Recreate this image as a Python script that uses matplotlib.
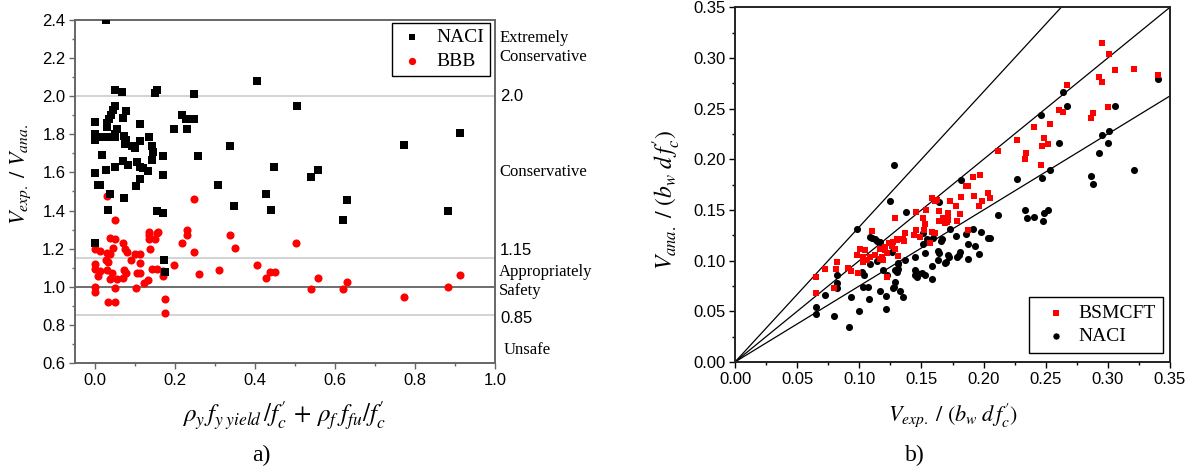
import numpy as np
import matplotlib
matplotlib.use("Agg")
import matplotlib.pyplot as plt
import matplotlib.transforms as mtransforms
from matplotlib.ticker import MultipleLocator

plt.rcParams['font.family'] = ['Liberation Sans', 'DejaVu Sans']
plt.rcParams['mathtext.fontset'] = 'stix'

# ---- panel a) data: V_exp / V_ana against reinforcement index ----
naci_a = [
    (0.028, 2.40), (0.05, 2.033), (0.068, 2.023), (0.154, 2.033), (0.151, 2.016),
    (0.248, 2.014), (0.406, 2.082), (0.0, 1.866), (0.0, 1.80), (0.0, 1.77),
    (0.0125, 1.786), (0.0275, 1.786), (0.0375, 1.786), (0.05, 1.786), (0.05, 1.946),
    (0.045, 1.93), (0.04, 1.90), (0.035, 1.88), (0.03, 1.86), (0.03, 1.84),
    (0.054, 1.828), (0.05, 1.80), (0.071, 1.885), (0.078, 1.924), (0.1125, 1.854),
    (0.073, 1.79), (0.078, 1.77), (0.076, 1.75), (0.092, 1.74), (0.10, 1.728),
    (0.1125, 1.763), (0.136, 1.786), (0.142, 1.737), (0.146, 1.705), (0.171, 1.684),
    (0.017, 1.693), (0.071, 1.662), (0.082, 1.637), (0.104, 1.653), (0.1125, 1.629),
    (0.121, 1.624), (0.142, 1.663), (0.133, 1.606), (0.171, 1.585), (0.1125, 1.566),
    (0.1025, 1.527), (0.0, 1.597), (0.0275, 1.615), (0.05, 1.627), (0.007, 1.536),
    (0.0125, 1.536), (0.0375, 1.487), (0.073, 1.466), (0.033, 1.405), (0.154, 1.396),
    (0.169, 1.386), (0.1975, 1.828), (0.218, 1.903), (0.2275, 1.882), (0.229, 1.828),
    (0.248, 1.882), (0.258, 1.684), (0.308, 1.536), (0.3375, 1.737), (0.348, 1.423),
    (0.427, 1.487), (0.439, 1.405), (0.448, 1.627), (0.504, 1.946), (0.539, 1.574),
    (0.558, 1.615), (0.629, 1.454), (0.621, 1.348), (0.7725, 1.746), (0.913, 1.805),
    (0.882, 1.396), (0.0, 1.227), (0.173, 1.143), (0.175, 1.075),
]
bbb_a = [
    (0.05, 1.35), (0.029, 1.475), (0.248, 1.458), (0.136, 1.288), (0.157, 1.288),
    (0.229, 1.30), (0.229, 1.274), (0.3375, 1.274), (0.0375, 1.257), (0.05, 1.248),
    (0.0, 1.196), (0.0125, 1.187), (0.029, 1.178), (0.0375, 1.17), (0.027, 1.143),
    (0.033, 1.129), (0.046, 1.205), (0.071, 1.227), (0.075, 1.196), (0.079, 1.182),
    (0.10, 1.17), (0.1125, 1.17), (0.09, 1.143), (0.1125, 1.126), (0.136, 1.27),
    (0.135, 1.248), (0.154, 1.283), (0.15, 1.248), (0.1375, 1.196), (0.217, 1.227),
    (0.248, 1.184), (0.35, 1.205), (0.5025, 1.227), (0.0, 1.117), (0.0, 1.091),
    (0.0125, 1.082), (0.008, 1.056), (0.029, 1.087), (0.0417, 1.07), (0.0375, 1.043),
    (0.054, 1.039), (0.05, 0.995), (0.072, 1.09), (0.077, 1.07), (0.071, 1.045),
    (0.104, 1.074), (0.1125, 1.074), (0.1025, 0.995), (0.123, 1.018), (0.133, 1.035),
    (0.142, 1.093), (0.154, 1.093), (0.171, 1.082), (0.171, 1.056), (0.1975, 1.114),
    (0.26, 1.068), (0.31, 1.087), (0.404, 1.114), (0.427, 1.047), (0.4375, 1.077),
    (0.45, 1.077), (0.0, 0.999), (0.0, 0.974), (0.033, 0.922), (0.05, 0.922),
    (0.174, 0.937), (0.174, 0.864), (0.539, 0.99), (0.558, 1.048), (0.62, 0.99),
    (0.629, 1.027), (0.7725, 0.946), (0.882, 0.999), (0.9125, 1.06),
]
limits_a = [2.0, 1.15, 1.0, 0.85]
zone_labels = [
    (2.255, "Extremely\nConservative", 'serif', 0.0),
    (2.0, "2.0", 'sans', 0.0),
    (1.60, "Conservative", 'serif', 0.0),
    (1.19, "1.15", 'sans', 0.0),
    (1.025, "Appropriately\nSafety", 'serif', 0.0),
    (0.835, "0.85", 'sans', 0.0),
    (0.667, "Unsafe", 'serif', 0.01),
]

# ---- panel b) data: normalized analytical vs experimental shear ----
bsmcft_b = [
    (0.2955, 0.3145), (0.3006, 0.304), (0.3055, 0.288), (0.3213, 0.2894), (0.340, 0.2835),
    (0.2926, 0.2815), (0.295, 0.276), (0.2674, 0.273), (0.261, 0.2487), (0.2636, 0.2464),
    (0.2878, 0.246), (0.2867, 0.241), (0.3001, 0.252), (0.2537, 0.2352), (0.2403, 0.2316),
    (0.2269, 0.2188), (0.2486, 0.2207), (0.2518, 0.2154), (0.2473, 0.2131), (0.2344, 0.206),
    (0.2336, 0.200), (0.2465, 0.1947), (0.2119, 0.2082), (0.1969, 0.1849), (0.1915, 0.1829),
    (0.1856, 0.174), (0.1872, 0.174), (0.2033, 0.167), (0.2054, 0.1618), (0.1925, 0.1635),
    (0.1985, 0.159), (0.196, 0.154), (0.182, 0.163), (0.173, 0.159), (0.1778, 0.154),
    (0.181, 0.1457), (0.1583, 0.162), (0.1609, 0.159), (0.1537, 0.150), (0.1456, 0.1477),
    (0.1644, 0.1487), (0.1714, 0.1473), (0.1515, 0.1424), (0.1644, 0.1391), (0.1714, 0.1401),
    (0.1789, 0.1391), (0.1287, 0.1421), (0.1529, 0.1359), (0.1368, 0.1276), (0.1454, 0.1303),
    (0.144, 0.125), (0.1583, 0.1283), (0.1609, 0.127), (0.130, 0.1217), (0.1354, 0.1217),
    (0.1488, 0.1237), (0.1872, 0.1303), (0.1167, 0.1112), (0.1207, 0.1138), (0.1241, 0.1171),
    (0.1261, 0.1145), (0.1287, 0.1112), (0.1314, 0.1046), (0.1226, 0.1073), (0.118, 0.1039),
    (0.122, 0.0836), (0.1569, 0.1171), (0.169, 0.1368), (0.0649, 0.0842), (0.0652, 0.0684),
    (0.0724, 0.0921), (0.0823, 0.099), (0.0813, 0.0915), (0.0799, 0.0727), (0.0912, 0.0931),
    (0.0933, 0.0898), (0.0984, 0.1056), (0.1006, 0.1112), (0.1046, 0.1105), (0.1027, 0.1039),
    (0.1086, 0.1039), (0.1059, 0.1006), (0.1105, 0.1293), (0.1126, 0.1056), (0.1167, 0.1013),
    (0.1207, 0.1105), (0.1193, 0.1006), (0.1274, 0.1187), (0.1301, 0.1204), (0.1362, 0.1197),
    (0.0992, 0.0875), (0.1032, 0.099), (0.1623, 0.1599), (0.1703, 0.1379), (0.1716, 0.1434),
    (0.1676, 0.1418), (0.1521, 0.1303),
]
naci_b = [
    (0.340, 0.279), (0.2636, 0.2667), (0.2674, 0.2526), (0.3055, 0.2526), (0.2465, 0.244),
    (0.261, 0.2158), (0.2953, 0.224), (0.3006, 0.228), (0.3001, 0.216), (0.2926, 0.2062),
    (0.2537, 0.1895), (0.247, 0.1819), (0.2269, 0.1806), (0.2867, 0.1832), (0.2878, 0.1756),
    (0.3213, 0.1895), (0.1818, 0.1793), (0.1279, 0.1947), (0.1247, 0.159), (0.1373, 0.1483),
    (0.1639, 0.1576), (0.2119, 0.1447), (0.2336, 0.1503), (0.2347, 0.1424), (0.2403, 0.1434),
    (0.2486, 0.1467), (0.2518, 0.1503), (0.2476, 0.1394), (0.173, 0.1315), (0.1515, 0.1276),
    (0.1604, 0.127), (0.1912, 0.1309), (0.1979, 0.1286), (0.1856, 0.126), (0.1778, 0.1243),
    (0.2052, 0.1224), (0.2038, 0.122), (0.1542, 0.1217), (0.1663, 0.1211), (0.1657, 0.1197),
    (0.1596, 0.122), (0.1872, 0.1161), (0.193, 0.1145), (0.1515, 0.1164), (0.1529, 0.1073),
    (0.1636, 0.1098), (0.1644, 0.1073), (0.1716, 0.1056), (0.1724, 0.1033), (0.1698, 0.099),
    (0.169, 0.098), (0.1636, 0.1006), (0.181, 0.1088), (0.1802, 0.1056), (0.1784, 0.1039),
    (0.1963, 0.1066), (0.1875, 0.1016), (0.1448, 0.1039), (0.1368, 0.1006), (0.1314, 0.098),
    (0.1287, 0.0908), (0.130, 0.0891), (0.1583, 0.095), (0.1448, 0.0908), (0.1462, 0.0875),
    (0.1502, 0.0881), (0.1529, 0.0858), (0.1448, 0.0858), (0.1462, 0.0836), (0.1583, 0.0816),
    (0.1193, 0.0908), (0.122, 0.0858), (0.1287, 0.0792), (0.128, 0.0743), (0.1274, 0.0727),
    (0.1167, 0.070), (0.1215, 0.0651), (0.1354, 0.0638), (0.1215, 0.052), (0.0982, 0.1312),
    (0.1086, 0.123), (0.1105, 0.122), (0.1126, 0.121), (0.1145, 0.1197), (0.1167, 0.1187),
    (0.114, 0.100), (0.1086, 0.0964), (0.1261, 0.1082), (0.1314, 0.0967), (0.1019, 0.0891),
    (0.1038, 0.0858), (0.1032, 0.0743), (0.1068, 0.0737), (0.1078, 0.0619), (0.1328, 0.0701),
    (0.0823, 0.0858), (0.0818, 0.0776), (0.0818, 0.0727), (0.0799, 0.0457), (0.0724, 0.0661),
    (0.0652, 0.0546), (0.0652, 0.047), (0.0933, 0.0641), (0.0915, 0.0348), (0.0998, 0.0503),
    (0.1314, 0.0915),
]
ratio_lines = [1 / 0.75, 1.0, 0.75]

serif = ['Liberation Serif', 'DejaVu Serif']
tick_size = 12

fig = plt.figure(figsize=(12, 4.73), dpi=100)

# ================= panel a =================
ax1 = fig.add_axes([0.0625, 0.2326, 0.35, 0.7252])
na = np.array(naci_a)
ba = np.array(bbb_a)
for v in limits_a:
    col = '#555555' if v == 1.0 else '#cccccc'
    ax1.axhline(v, color=col, lw=1.2, zorder=1)
ax1.scatter(na[:, 0], na[:, 1], marker='s', s=26, color='black', lw=0, zorder=3, label='NACI')
ax1.scatter(ba[:, 0], ba[:, 1], marker='o', s=34, color='#ff0000', lw=0, zorder=2, label='BBB')
ax1.set_xlim(-0.05, 1.0)
ax1.set_ylim(0.6, 2.4)
ax1.xaxis.set_major_locator(MultipleLocator(0.2))
ax1.xaxis.set_minor_locator(MultipleLocator(0.1))
ax1.yaxis.set_major_locator(MultipleLocator(0.2))
ax1.yaxis.set_minor_locator(MultipleLocator(0.1))
ax1.xaxis.set_major_formatter(matplotlib.ticker.FormatStrFormatter('%.1f'))
ax1.yaxis.set_major_formatter(matplotlib.ticker.FormatStrFormatter('%.1f'))
for sp in ax1.spines.values():
    sp.set_color('#666666')
    sp.set_linewidth(1.4)
ax1.tick_params(which='major', direction='out', length=4, width=1, color='#666666',
                labelsize=tick_size, pad=3)
ax1.tick_params(which='minor', direction='out', length=2.2, width=1, color='#666666')

trans = mtransforms.blended_transform_factory(ax1.transAxes, ax1.transData)
for yv, txt, kind, dx in zone_labels:
    if kind == 'serif':
        ax1.text(1.01 + dx, yv, txt, transform=trans, va='center', ha='left',
                 family=serif, fontsize=12, linespacing=1.25, clip_on=False)
    else:
        ax1.text(1.012, yv, txt, transform=trans, va='center', ha='left',
                 fontsize=tick_size, clip_on=False)

leg1 = ax1.legend(loc='upper right', bbox_to_anchor=(0.988, 0.991), borderaxespad=0,
                  prop={'family': serif, 'size': 14}, fancybox=False, framealpha=1,
                  edgecolor='black', handletextpad=0.5, borderpad=0.3, labelspacing=0.3,
                  handlelength=1.5, markerscale=0.9)
leg1.get_frame().set_linewidth(1.0)

ax1.set_ylabel(r"$V_{exp.}\ /\ V_{ana.}$", fontsize=16)
ax1.yaxis.set_label_coords(-0.1, 0.55)
ax1.set_xlabel(r"$\rho_y\,f_{y\;yield}\,/f^{\prime}_c\,+\,\rho_f\;f_{fu}/f^{\prime}_c$", fontsize=18)
ax1.xaxis.set_label_coords(0.498, -0.105)
fig.text(0.218, 0.038, "a)", family=serif, fontsize=17, ha='center', va='center')

# ================= panel b =================
ax2 = fig.add_axes([0.6125, 0.2347, 0.3625, 0.75])
xs = np.array([0.0, 0.35])
for k in ratio_lines:
    ax2.plot(xs, k * xs, color='black', lw=0.9, zorder=1)
bb = np.array(bsmcft_b)
nb = np.array(naci_b)
ax2.scatter(nb[:, 0], nb[:, 1], marker='o', s=26, color='black', lw=0, zorder=2, label='NACI')
ax2.scatter(bb[:, 0], bb[:, 1], marker='s', s=22, color='#ff0000', lw=0, zorder=3, label='BSMCFT')
ax2.set_xlim(0, 0.35)
ax2.set_ylim(0, 0.35)
ax2.xaxis.set_major_locator(MultipleLocator(0.05))
ax2.xaxis.set_minor_locator(MultipleLocator(0.025))
ax2.yaxis.set_major_locator(MultipleLocator(0.05))
ax2.yaxis.set_minor_locator(MultipleLocator(0.025))
ax2.xaxis.set_major_formatter(matplotlib.ticker.FormatStrFormatter('%.2f'))
ax2.yaxis.set_major_formatter(matplotlib.ticker.FormatStrFormatter('%.2f'))
for sp in ax2.spines.values():
    sp.set_color('#222222')
    sp.set_linewidth(1.4)
ax2.tick_params(which='major', direction='out', length=4, width=1, labelsize=tick_size, pad=3)
ax2.tick_params(which='minor', direction='out', length=2.2, width=1)

h, l = ax2.get_legend_handles_labels()
leg2 = ax2.legend([h[1], h[0]], [l[1], l[0]], loc='lower right', bbox_to_anchor=(0.984, 0.025),
                  borderaxespad=0, prop={'family': serif, 'size': 14}, fancybox=False,
                  framealpha=1, edgecolor='black', handletextpad=0.2, borderpad=0.4,
                  labelspacing=0.3, handlelength=1.9, markerscale=0.9)
leg2.get_frame().set_linewidth(1.0)

ax2.set_ylabel(r"$V_{ana.}\ /\ (b_w\;d\,f^{\prime}_c)$", fontsize=17)
ax2.yaxis.set_label_coords(-0.12, 0.457)
ax2.set_xlabel(r"$V_{exp.}\ /\ (b_w\;d\,f^{\prime}_c)$", fontsize=16)
ax2.xaxis.set_label_coords(0.501, -0.112)
fig.text(0.7625, 0.038, "b)", family=serif, fontsize=17, ha='center', va='center')

fig.savefig("out.png", dpi=100)
